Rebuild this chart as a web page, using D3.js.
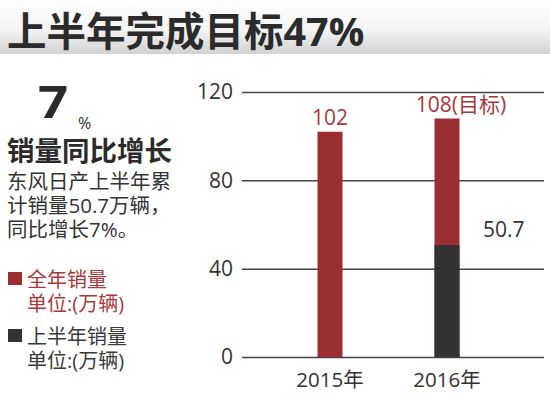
<!DOCTYPE html>
<html>
<head>
<meta charset="utf-8">
<script src="https://cdn.jsdelivr.net/npm/d3@7"></script>
<style>
  body { margin: 0; background: #fff; }
  text { font-family: "Open Sans", "Noto Sans CJK SC", sans-serif; }
</style>
</head>
<body>
<svg id="chart" width="550" height="398"></svg>
<script>
// data
const years = ["2015年", "2016年"];
const fullYear = [102, 108];
const firstHalf = [null, 50.7];
const fullLabels = ["102", "108(目标)"];
const yTicks = [0, 40, 80, 120];

const red = "#9b2e31";
const dark = "#333333";

const svg = d3.select("#chart");

// header band
const defs = svg.append("defs");
const grad = defs.append("linearGradient").attr("id", "hdr").attr("x1", 0).attr("y1", 0).attr("x2", 0).attr("y2", 1);
grad.append("stop").attr("offset", "0%").attr("stop-color", "#ffffff");
grad.append("stop").attr("offset", "55%").attr("stop-color", "#f4f4f4");
grad.append("stop").attr("offset", "100%").attr("stop-color", "#d2d2d2");
svg.append("rect").attr("x", 0).attr("y", 0).attr("width", 550).attr("height", 54).attr("fill", "url(#hdr)");

svg.append("text")
    .attr("x", 7).attr("y", 46)
    .style("font-size", "39.5px").style("font-weight", "bold")
    .attr("fill", "#2b2b2b")
    .text("上半年完成目标47%");

// left side text
svg.append("text").attr("transform", "translate(38,118) scale(1.2,1)")
    .style("font-size", "44px").style("font-weight", "bold").attr("fill", "#2b2b2b").text("7");
svg.append("text").attr("x", 78).attr("y", 129)
    .style("font-size", "16px").attr("fill", "#2b2b2b").text("%");
svg.append("text").attr("x", 7).attr("y", 161)
    .style("font-size", "27.5px").style("font-weight", "bold").attr("fill", "#2b2b2b").text("销量同比增长");

const desc = ["东风日产上半年累", "计销量50.7万辆，", "同比增长7%。"];
svg.selectAll(".desc").data(desc).enter().append("text")
    .attr("class", "desc")
    .attr("x", 7).attr("y", (d, i) => 189 + i * 24)
    .style("font-size", "20.5px").attr("fill", "#333")
    .text(d => d);

// legend
const legend = [
    { color: red, text: "#a8383b", lines: ["全年销量", "单位:(万辆)"] },
    { color: dark, text: "#3a3a3a", lines: ["上半年销量", "单位:(万辆)"] }
];
const lg = svg.selectAll(".lg").data(legend).enter().append("g")
    .attr("class", "lg")
    .attr("transform", (d, i) => `translate(0,${i * 57})`);
lg.append("rect").attr("x", 8).attr("y", 272).attr("width", 14).attr("height", 13).attr("fill", d => d.color);
lg.each(function (d) {
    d3.select(this).selectAll("text").data(d.lines).enter().append("text")
        .attr("x", 27).attr("y", (t, i) => 287 + i * 24)
        .style("font-size", "20px").attr("fill", d.text)
        .text(t => t);
});

// chart
const x = d3.scalePoint().domain(years).range([330, 447]);
const y = d3.scaleLinear().domain([0, 120]).range([357, 92]);
const barW = 25;

const yAxis = d3.axisLeft(y).tickValues(yTicks).tickSize(-302).tickPadding(9);
const ga = svg.append("g").attr("transform", "translate(242,0)").call(yAxis);
ga.select(".domain").remove();
ga.selectAll(".tick line").attr("stroke", "#444").attr("stroke-width", 1.5);
ga.selectAll(".tick text").style("font-size", "21px").attr("fill", "#333");

svg.selectAll(".full").data(years).enter().append("rect")
    .attr("class", "full")
    .attr("x", d => x(d) - barW / 2)
    .attr("y", (d, i) => y(fullYear[i]))
    .attr("width", barW)
    .attr("height", (d, i) => y(0) - y(fullYear[i]))
    .attr("fill", red);

const halfData = years.map((d, i) => ({ year: d, v: firstHalf[i] })).filter(d => d.v != null);
svg.selectAll(".half").data(halfData).enter().append("rect")
    .attr("class", "half")
    .attr("x", d => x(d.year) - barW / 2)
    .attr("y", d => y(d.v))
    .attr("width", barW)
    .attr("height", d => y(0) - y(d.v))
    .attr("fill", dark);

svg.selectAll(".flabel").data(years).enter().append("text")
    .attr("class", "flabel")
    .attr("x", (d, i) => x(d) + (i === 1 ? 14 : 0))
    .attr("y", (d, i) => y(fullYear[i]) - 7)
    .attr("text-anchor", "middle")
    .style("font-size", "21px").attr("fill", "#a8383b")
    .text((d, i) => fullLabels[i]);

svg.selectAll(".hlabel").data(halfData).enter().append("text")
    .attr("class", "hlabel")
    .attr("x", d => x(d.year) + 36)
    .attr("y", d => y(d.v) - 8)
    .style("font-size", "21px").attr("fill", "#333")
    .text(d => d.v);

// x labels
svg.selectAll(".xl").data(years).enter().append("text")
    .attr("class", "xl")
    .attr("x", d => x(d)).attr("y", 387)
    .attr("text-anchor", "middle")
    .style("font-size", "20.5px").attr("fill", "#333")
    .text(d => d);
</script>
</body>
</html>
